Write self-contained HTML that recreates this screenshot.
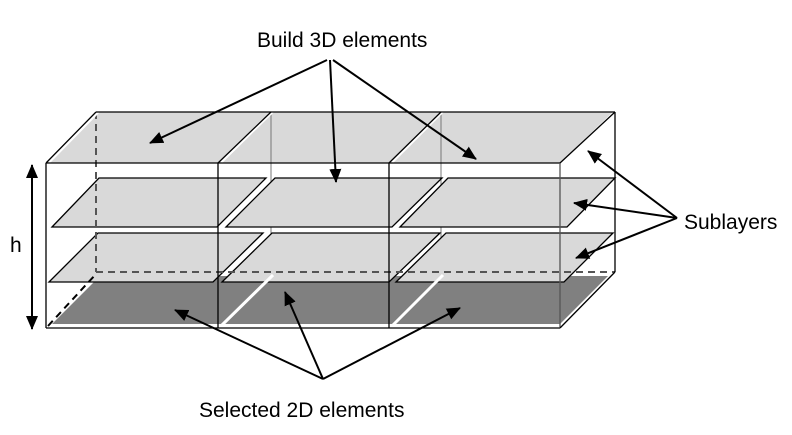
<!DOCTYPE html>
<html><head><meta charset="utf-8"><style>body{margin:0;background:#fff}svg{display:block}text{font-family:"Liberation Sans",sans-serif;fill:#000}</style></head><body>
<svg width="792" height="435" viewBox="0 0 792 435" xmlns="http://www.w3.org/2000/svg">
<defs><marker id="a2" markerWidth="14" markerHeight="12" refX="13" refY="6" orient="auto" markerUnits="userSpaceOnUse"><path d="M0,0L14,6L0,12z" fill="#000"/></marker></defs>
<polygon points="52,324 100,276 608,276 560,324" fill="#808080"/>
<polygon points="46,163 96,112 614,112 560,163" fill="#d9d9d9"/>
<g stroke="#777" stroke-width="1"><line x1="271" y1="112" x2="271" y2="276"/><line x1="441" y1="112" x2="441" y2="276"/></g>
<g fill="#d9d9d9" stroke="#000" stroke-width="1.3">
<polygon points="52,227 99,178 266,178 217,227"/><polygon points="49,282 98,233 263,233 213,282"/>
<polygon points="226,227 275,178 442,178 392,227"/><polygon points="222,282 272,233 440,233 389,282"/>
<polygon points="400,227 448,178 615,178 567,227"/><polygon points="396,282 446,233 613,233 564,282"/>
</g>
<g stroke="#555" stroke-width="2" stroke-dasharray="7,5" fill="none">
<line x1="96" y1="112" x2="96" y2="272"/><line x1="96" y1="272" x2="615" y2="272"/>
<line x1="48" y1="326" x2="96" y2="274" stroke="#000"/>
</g>
<g stroke="#fff" stroke-width="3"><line x1="221" y1="326" x2="273" y2="275"/><line x1="392" y1="326" x2="443" y2="275"/>
<line x1="221" y1="162" x2="273" y2="111"/><line x1="392" y1="162" x2="443" y2="111"/>
<line x1="49" y1="162" x2="98" y2="112"/><line x1="563" y1="162" x2="615" y2="112"/></g>
<g stroke="#000" stroke-width="1.3" fill="none">
<line x1="46" y1="163" x2="560" y2="163"/><line x1="46" y1="328" x2="560" y2="328"/>
<line x1="96" y1="112" x2="615" y2="112"/>
<line x1="46" y1="163" x2="46" y2="328"/><line x1="218" y1="163" x2="218" y2="328"/><line x1="389" y1="163" x2="389" y2="328"/>
<line x1="560" y1="163" x2="560" y2="328" stroke="#555"/>
<line x1="46" y1="163" x2="96" y2="112"/><line x1="218" y1="163" x2="271" y2="112"/><line x1="389" y1="163" x2="441" y2="112"/><line x1="560" y1="163" x2="615" y2="112"/>
<line x1="560" y1="328" x2="615" y2="272"/><line x1="615" y1="112" x2="615" y2="272"/>
</g>
<g stroke="#000" stroke-width="2" fill="none" marker-end="url(#a2)">
<line x1="327" y1="60" x2="150" y2="143"/><line x1="330" y1="60" x2="336" y2="182"/><line x1="333" y1="60" x2="476" y2="159"/>
<line x1="677" y1="218" x2="588" y2="151"/><line x1="677" y1="218" x2="574" y2="203"/><line x1="677" y1="218" x2="576" y2="258"/>
<line x1="323" y1="379" x2="175" y2="310"/><line x1="323" y1="379" x2="285" y2="292"/><line x1="323" y1="379" x2="460" y2="308"/>
<line x1="32" y1="245" x2="32" y2="165"/><line x1="32" y1="245" x2="32" y2="329"/>
</g>
<text x="257" y="47" font-size="21">Build 3D elements</text>
<text x="684" y="229" font-size="21">Sublayers</text>
<text x="199" y="417" font-size="21">Selected 2D elements</text>
<text x="10" y="252" font-size="21">h</text>
</svg>
</body></html>
